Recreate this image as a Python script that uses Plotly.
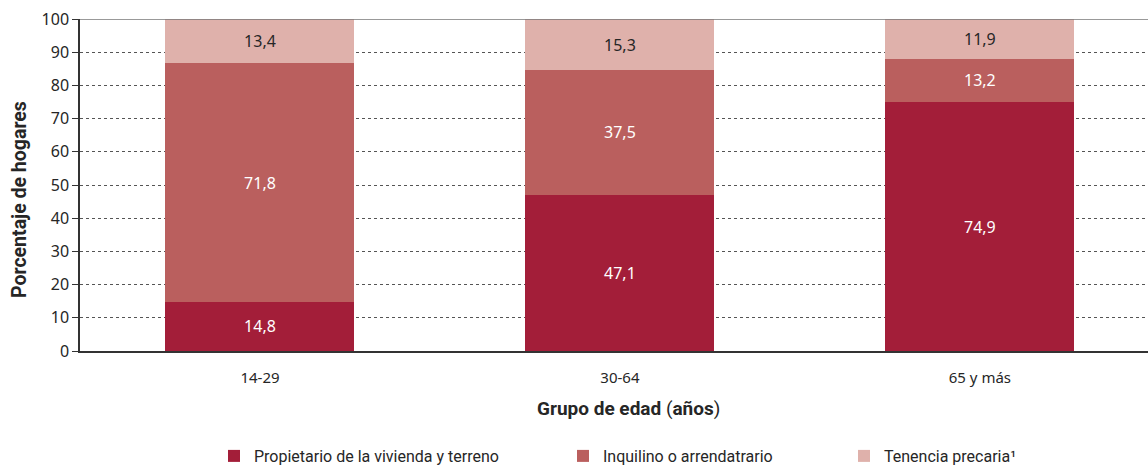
import plotly.graph_objects as go

categories = ["14-29", "30-64", "65 y más"]
propietario = [14.8, 47.1, 74.9]
inquilino = [71.8, 37.5, 13.2]
precaria = [13.4, 15.3, 11.9]
series_names = ["Propietario de la vivienda y terreno", "Inquilino o arrendatrario", "Tenencia precaria\u00b9"]
y_ticks = [0, 10, 20, 30, 40, 50, 60, 70, 80, 90, 100]
x_title = "<b>Grupo de edad</b> (<b>años</b>)"
y_title = "<b>Porcentaje de hogares</b>"

colors = ["#A31E39", "#BA5F5E", "#DFB1AB"]
text_colors = ["white", "white", "#262626"]
legend_ids = ["legend", "legend2", "legend3"]

fig = go.Figure()
for vals, name, col, tcol, lid in zip([propietario, inquilino, precaria], series_names, colors, text_colors, legend_ids):
    fig.add_trace(go.Bar(
        x=categories, y=vals, name=name, marker=dict(color=col, line=dict(width=0)),
        width=0.525, texttemplate="%{y:.1f}", textposition="inside", insidetextanchor="middle",
        textfont=dict(color=tcol, size=16, family="Noto Sans"), legend=lid,
        hoverinfo="skip", showlegend=True,
    ))

legend_font = dict(family="Roboto", size=16, color="#262626")
leg_common = dict(orientation="h", yref="container", yanchor="middle", y=(466 - 456) / 466,
                  xanchor="left", font=legend_font, bgcolor="rgba(0,0,0,0)", itemwidth=30)

fig.update_layout(
    width=1148, height=466,
    margin=dict(l=80, r=0, t=19, b=115, autoexpand=False),
    barmode="stack",
    showlegend=True,
    separators=",.",
    plot_bgcolor="white", paper_bgcolor="white",
    font=dict(family="Noto Sans", color="#262626"),
    legend=dict(x=(214 - 80) / 1068, **leg_common),
    legend2=dict(x=(563 - 80) / 1068, **leg_common),
    legend3=dict(x=(844 - 80) / 1068, **leg_common),
    xaxis=dict(
        range=[-0.5, 2.467], showgrid=False, showline=True, linecolor="#333333", linewidth=1.5,
        ticks="", tickfont=dict(size=15, family="Noto Sans"), automargin=False, ticklabelstandoff=12,
    ),
    yaxis=dict(
        range=[0, 100], tickvals=y_ticks, showgrid=True, gridcolor="#555555", griddash="dot", gridwidth=1,
        showline=True, linecolor="#333333", linewidth=1.5, ticks="outside", ticklen=6, tickcolor="#333333",
        zeroline=False, tickfont=dict(size=16, family="Noto Sans"), automargin=False,
    ),
    annotations=[
        dict(text=x_title, xref="paper", yref="paper", x=(628 - 80) / 1068, y=(351 - 408) / 332,
             xanchor="center", yanchor="middle", showarrow=False,
             font=dict(family="Roboto", size=19, color="#262626")),
        dict(text=y_title, xref="paper", yref="paper", x=(19 - 80) / 1068, y=(351 - 200) / 332,
             xanchor="center", yanchor="middle", showarrow=False, textangle=-90,
             font=dict(family="Roboto", size=19.5, color="#262626")),
    ],
    shapes=[dict(type="line", xref="paper", yref="y", x0=0, x1=1, y0=100, y1=100,
                 line=dict(color="#777777", width=1.5), layer="above")],
)

fig.write_html("out.html", config={"displayModeBar": False},
               post_script="document.body.style.margin='0';document.body.style.overflow='hidden';")
